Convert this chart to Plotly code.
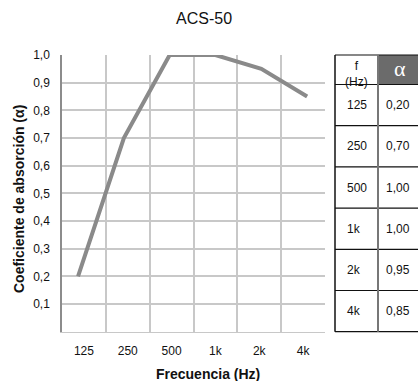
import plotly.graph_objects as go

# Absorption data for panel ACS-50
freq_labels = ["125", "250", "500", "1k", "2k", "4k"]
alpha_values = [0.20, 0.70, 1.00, 1.00, 0.95, 0.85]
y_ticks = [0.1, 0.2, 0.3, 0.4, 0.5, 0.6, 0.7, 0.8, 0.9, 1.0]

W, H = 418, 381
FONT = "Liberation Sans, Arial, sans-serif"
GRID = "#c8c8c8"
INK = "#111"

# plot frame in pixels
PL, PR, PT, PB = 62, 325, 55, 331.7
# table frame in pixels
TL = 330


def fx(px):
    return px / W


def fy(py):
    return 1 - py / H


def dec(v, n):
    return f"{v:.{n}f}".replace(".", ",")


idx = list(range(len(freq_labels)))

fig = go.Figure()
# empty trace so the category axis (grid + labels) is built
fig.add_trace(go.Scatter(x=idx, y=[None] * len(idx), xaxis="x", yaxis="y",
                         mode="lines", hoverinfo="skip", showlegend=False))
fig.add_trace(go.Scatter(
    x=idx, y=alpha_values, xaxis="x2", yaxis="y",
    mode="lines", line=dict(color="#8a8a8a", width=4),
    hoverinfo="skip", showlegend=False,
))

axis_common = dict(fixedrange=True, zeroline=False)

fig.update_layout(
    width=W, height=H,
    margin=dict(l=0, r=0, t=0, b=0, autoexpand=False),
    paper_bgcolor="white", plot_bgcolor="white",
    font=dict(family=FONT, size=12, color=INK),
    xaxis=dict(
        domain=[fx(PL), fx(PR)], anchor="y",
        range=[-0.5, len(freq_labels) - 0.5],
        tickmode="array", tickvals=idx, ticktext=freq_labels,
        showgrid=False,
        ticks="outside", ticklen=8, tickcolor="rgba(0,0,0,0)",
        showline=True, linecolor=GRID, linewidth=1,
        minor=dict(tickmode="linear", tick0=-0.5, dtick=1,
                   showgrid=True, gridcolor=GRID, gridwidth=1.5,
                   ticks=""),
        **axis_common,
    ),
    xaxis2=dict(
        overlaying="x", anchor="y", range=[-0.35, 5.39],
        showgrid=False, showticklabels=False, showline=False,
        **axis_common,
    ),
    yaxis=dict(
        domain=[fy(PB), fy(PT)], anchor="x",
        range=[0, 1.0], tickmode="array", tickvals=y_ticks,
        ticktext=[dec(v, 1) for v in y_ticks],
        showgrid=True, gridcolor=GRID, gridwidth=1.5,
        ticks="outside", ticklen=8, tickcolor="rgba(0,0,0,0)",
        showline=True, linecolor="#8c8c8c", linewidth=1.5,
        **axis_common,
    ),
    # pixel-unit axes for the side table
    xaxis3=dict(domain=[fx(TL), 1], anchor="y3", range=[TL, W],
                visible=False, **axis_common),
    yaxis3=dict(domain=[0, 1], anchor="x3", range=[H, 0],
                visible=False, **axis_common),
)

C = dict(xanchor="center", yanchor="middle", showarrow=False)
P = dict(xref="paper", yref="paper")

annotations = [
    dict(text="ACS-50", x=fx(204), y=fy(19),
         font=dict(size=16, family=FONT, color=INK), **P, **C),
    dict(text="<b>Frecuencia (Hz)</b>", x=fx(208), y=fy(374),
         font=dict(size=14, family=FONT, color=INK), **P, **C),
    dict(text="<b>Coeficiente de absorción (α)</b>", x=fx(19), y=fy(199),
         textangle=-90, font=dict(size=14, family=FONT, color=INK), **P, **C),
]

# Side table of values
tx0, tx1, tx2 = 335, 378, 424
ty_top, ty_head = 55, 84.5
ty_bot = PB
row_h = (ty_bot - ty_head) / len(freq_labels)
T = dict(xref="x3", yref="y3")

shapes = [
    dict(type="rect", x0=tx1, x1=tx2, y0=ty_top, y1=ty_head,
         fillcolor="#6b6b6b", line=dict(width=0), **T),
]
for k in range(len(freq_labels) + 2):
    py = ty_top if k == 0 else ty_head + (k - 1) * row_h
    shapes.append(dict(type="line", x0=tx0, x1=tx2, y0=py, y1=py,
                       line=dict(color=INK, width=1.2), **T))
shapes.append(dict(type="line", x0=tx0, x1=tx0, y0=ty_top, y1=ty_bot,
                   line=dict(color=INK, width=1.5), **T))
shapes.append(dict(type="line", x0=tx1, x1=tx1, y0=ty_top, y1=ty_bot,
                   line=dict(color="#777", width=2), **T))

annotations.append(dict(text="f<br>(Hz)", x=356.5, y=74,
                        font=dict(size=12, family=FONT, color=INK), **T, **C))
annotations.append(dict(text="α", x=400, y=68,
                        font=dict(size=22, family="Liberation Serif, Times New Roman, serif",
                                  color="white"), **T, **C))
for k, (lab, v) in enumerate(zip(freq_labels, alpha_values)):
    cy = ty_head + (k + 0.5) * row_h
    annotations.append(dict(text=lab, x=345, y=cy, xanchor="left", yanchor="middle",
                            showarrow=False,
                            font=dict(size=12, family=FONT, color=INK), **T))
    annotations.append(dict(text=dec(v, 2), x=384, y=cy, xanchor="left",
                            yanchor="middle", showarrow=False,
                            font=dict(size=12, family=FONT, color=INK), **T))

fig.update_layout(shapes=shapes, annotations=annotations)
fig.write_html("out.html")
